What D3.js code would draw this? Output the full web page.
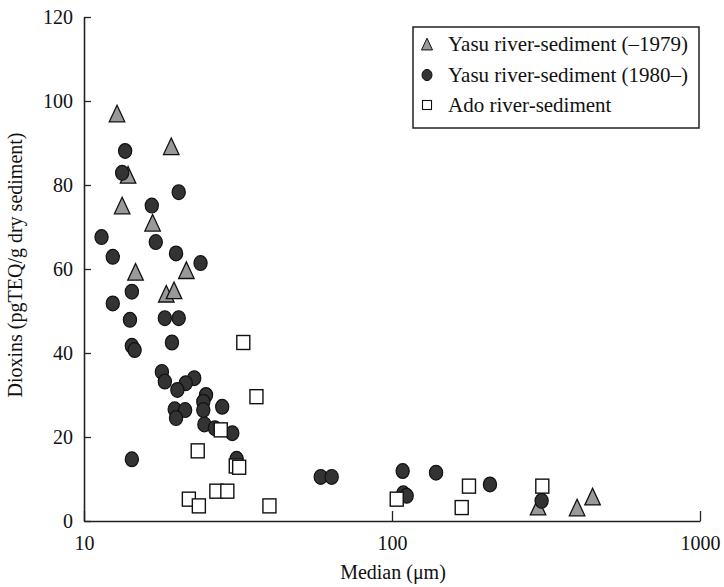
<!DOCTYPE html>
<html><head><meta charset="utf-8">
<script src="https://cdn.jsdelivr.net/npm/d3@7"></script>
<style>body{margin:0;background:#fff}svg{display:block}</style>
</head><body><svg id="c" width="724" height="587"></svg>
<script>
const xTicks = [10, 100, 1000];
const yTicks = [0, 20, 40, 60, 80, 100, 120];
const seriesNames = ["Yasu river-sediment (\u20131979)", "Yasu river-sediment (1980\u2013)", "Ado river-sediment"];
// Yasu (-1979): [median, dioxins]
const yasuOld = [[12.8,96.7],[19.2,88.9],[13.9,82.1],[13.3,74.8],[16.7,70.7],[14.7,59.0],[21.5,59.4],[18.5,53.8],[19.6,54.6],[298,3.1],[399,2.9],[448,5.5]];
// Yasu (1980-)
const yasuNew = [[13.6,88.1],[13.3,82.9],[20.3,78.3],[16.6,75.1],[11.4,67.6],[17.1,66.4],[12.4,62.9],[19.9,63.7],[23.9,61.4],
[14.3,54.6],[12.4,51.8],[14.1,47.9],[18.3,48.3],[20.3,48.3],[14.3,41.7],[14.6,40.7],[19.3,42.5],[17.9,35.5],[18.3,33.2],
[22.8,34.0],[21.4,32.8],[20.1,31.2],[24.9,30.0],[24.4,28.4],[24.4,26.4],[28.1,27.2],[19.7,26.6],[21.3,26.4],[19.9,24.5],
[24.6,23.0],[26.6,22.1],[30.3,20.9],[31.3,14.8],[14.3,14.7],[58.7,10.5],[63.7,10.5],[108.3,11.9],[108.8,6.6],[111.6,6.0],
[139,11.5],[208,8.7],[306,4.8]];
// Ado
const ado = [[32.9,42.5],[36.3,29.6],[27.8,21.7],[23.4,16.7],[31.1,13.1],[31.9,12.8],[21.9,5.2],[23.6,3.6],[26.9,7.1],[29.2,7.1],
[40.0,3.6],[103.6,5.2],[177.8,8.3],[168.4,3.2],[307.6,8.3]];

const FONT = "font-family:'Liberation Serif',serif";
const svg = d3.select("#c");
const x = d3.scaleLog().domain([10,1000]).range([84,700]);
const y = d3.scaleLinear().domain([0,120]).range([521,17]);
const axisCol = "#222";

const gx = svg.append("g").attr("transform","translate(0,521)")
  .call(d3.axisBottom(x).tickValues(xTicks).tickFormat(d3.format("d")).tickSizeInner(-10).tickSizeOuter(0).tickPadding(15));
const gy = svg.append("g").attr("transform","translate(84,0)")
  .call(d3.axisLeft(y).tickValues(yTicks).tickSizeInner(-7).tickSizeOuter(0).tickPadding(11));
[gx,gy].forEach(g=>{
  g.select(".domain").attr("stroke",axisCol).attr("stroke-width",1.6);
  g.selectAll(".tick line").attr("stroke",axisCol).attr("stroke-width",1.3);
  g.selectAll("text").attr("style",FONT).attr("font-size",20).attr("fill","#111");
});
gx.selectAll(".tick text").attr("dy","0.71em");

svg.append("text").attr("style",FONT).attr("x",393).attr("y",579).attr("text-anchor","middle").attr("font-size",20).attr("fill","#111").text("Median (\u03bcm)");
svg.append("text").attr("style",FONT).attr("transform","translate(22,265) rotate(-90)").attr("text-anchor","middle").attr("font-size",20).attr("fill","#111")
  .text("Dioxins (pgTEQ/g dry sediment)");

const triPath = (s)=>`M0,${-s*0.62}L${s*0.5},${s*0.45}L${-s*0.5},${s*0.45}Z`;

svg.append("g").selectAll("path").data(yasuOld).join("path")
  .attr("transform",d=>`translate(${x(d[0])},${y(d[1])})`)
  .attr("d",triPath(15.5)).attr("fill","#999").attr("stroke","#111").attr("stroke-width",1.3);
svg.append("g").selectAll("ellipse").data(yasuNew).join("ellipse")
  .attr("cx",d=>x(d[0])).attr("cy",d=>y(d[1])).attr("rx",6.6).attr("ry",7.4)
  .attr("fill","#333").attr("stroke","#111").attr("stroke-width",1.2);
svg.append("g").selectAll("rect").data(ado).join("rect")
  .attr("x",d=>x(d[0])-6.5).attr("y",d=>y(d[1])-7).attr("width",13).attr("height",14)
  .attr("fill","#fff").attr("stroke","#111").attr("stroke-width",1.4);

const lg = svg.append("g");
lg.append("rect").attr("x",413).attr("y",27).attr("width",286).attr("height",101)
  .attr("fill","#fff").attr("stroke",axisCol).attr("stroke-width",1.5);
const rows = [44,75,105];
lg.append("path").attr("transform",`translate(427,${rows[0]+1})`).attr("d",triPath(11)).attr("fill","#999").attr("stroke","#111").attr("stroke-width",1);
lg.append("ellipse").attr("cx",427).attr("cy",rows[1]).attr("rx",5).attr("ry",5.6).attr("fill","#333").attr("stroke","#111");
lg.append("rect").attr("x",422.5).attr("y",rows[2]-4.5).attr("width",9).attr("height",9).attr("fill","#fff").attr("stroke","#111").attr("stroke-width",1.1);
lg.selectAll("text.l").data(seriesNames).join("text").attr("class","l").attr("style",FONT)
  .attr("x",448).attr("y",(d,i)=>rows[i]).attr("dy","0.35em").attr("font-size",21).attr("fill","#111").text(d=>d);
</script></body></html>
